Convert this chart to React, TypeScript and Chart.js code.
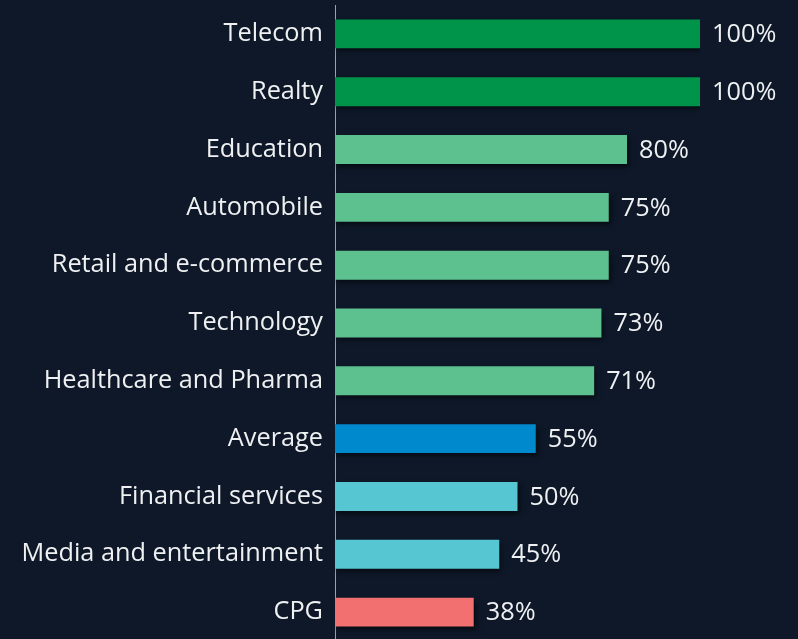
import React, { useEffect, useRef } from "react";
import { Chart, registerables } from "chart.js";

Chart.register(...registerables);

const categories = [
  "Telecom",
  "Realty",
  "Education",
  "Automobile",
  "Retail and e-commerce",
  "Technology",
  "Healthcare and Pharma",
  "Average",
  "Financial services",
  "Media and entertainment",
  "CPG",
];
const values = [100, 100, 80, 75, 75, 73, 71, 55, 50, 45, 38];
const barColors = [
  "#00934a",
  "#00934a",
  "#5cc18f",
  "#5cc18f",
  "#5cc18f",
  "#5cc18f",
  "#5cc18f",
  "#0089cc",
  "#55c6d2",
  "#55c6d2",
  "#f27070",
];

const FONT = '"Open Sans", "Noto Sans", sans-serif';
const TEXT_COLOR = "#eef0f2";
const BG = "#0e1828";

export default function App() {
  const ref = useRef<HTMLCanvasElement>(null);
  useEffect(() => {
    document.body.style.margin = "0";
    document.body.style.overflow = "hidden";
    document.body.style.background = BG;
    const shadowPlugin = {
      id: "barShadow",
      beforeDatasetDraw(chart: any) {
        const ctx = chart.ctx;
        ctx.save();
        ctx.shadowColor = "rgba(0,0,0,0.55)";
        ctx.shadowBlur = 5;
        ctx.shadowOffsetX = 2;
        ctx.shadowOffsetY = 3;
      },
      afterDatasetDraw(chart: any) {
        chart.ctx.restore();
      },
    };
    const labelPlugin = {
      id: "valueLabels",
      afterDatasetsDraw(chart: any) {
        const ctx = chart.ctx;
        const meta = chart.getDatasetMeta(0);
        ctx.save();
        ctx.font = `25.3px ${FONT}`;
        ctx.fillStyle = TEXT_COLOR;
        ctx.textAlign = "left";
        ctx.textBaseline = "middle";
        meta.data.forEach((bar: any, i: number) => {
          ctx.fillText(`${values[i]}%`, bar.x + 12, bar.y + 1);
        });
        ctx.restore();
      },
    };
    const chart = new Chart(ref.current!, {
      type: "bar",
      data: {
        labels: categories,
        datasets: [
          {
            data: values,
            backgroundColor: barColors,
            borderWidth: 0,
            barPercentage: 0.5,
            categoryPercentage: 1,
          },
        ],
      },
      options: {
        indexAxis: "y",
        animation: false,
        responsive: false,
        maintainAspectRatio: false,
        layout: { padding: { top: 5, right: 98, bottom: 1, left: 0 } },
        plugins: {
          legend: { display: false },
          tooltip: { enabled: false },
        },
        scales: {
          x: {
            display: false,
            min: 0,
            max: 100,
          },
          y: {
            grid: { display: false, drawTicks: false },
            border: { display: true, color: "#9aa1aa", width: 1 },
            ticks: {
              color: TEXT_COLOR,
              font: { family: FONT, size: 25.3 },
              padding: 12,
            },
            afterFit(scale: any) {
              scale.width = 335;
              scale.paddingTop = 0;
              scale.paddingBottom = 0;
            },
          },
        },
      },
      plugins: [shadowPlugin, labelPlugin],
    });
    return () => chart.destroy();
  }, []);
  return (
    <div style={{ width: 798, height: 642, background: BG }}>
      <canvas ref={ref} width={798} height={642} style={{ display: "block" }} />
    </div>
  );
}
